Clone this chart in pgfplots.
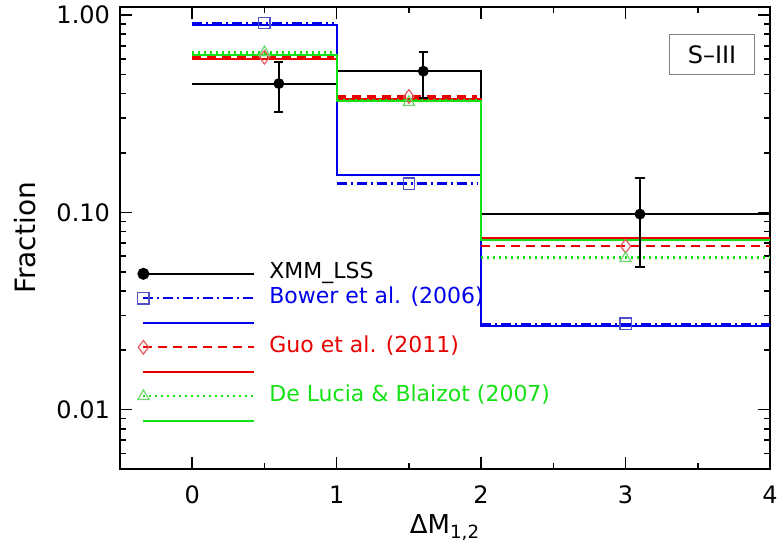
\documentclass[border=0pt]{standalone}
\usepackage{fontspec}
\setmainfont{DejaVu Sans}
\usepackage{pgfplots}
\pgfplotsset{compat=1.18}
\usetikzlibrary{calc}
\definecolor{myblue}{RGB}{0,0,235}
\definecolor{myred}{RGB}{235,0,0}
\definecolor{mygreen}{RGB}{20,225,20}
\definecolor{mkblue}{RGB}{80,80,200}
\definecolor{mkred}{RGB}{230,90,90}
\definecolor{mkgreen}{RGB}{110,215,110}
\tikzset{
  dashdotp/.style={dash pattern=on 5pt off 2pt on 1pt off 2pt},
  dashp/.style={dash pattern=on 4.5pt off 3pt},
  dotp/.style={dash pattern=on 1pt off 2pt},
}
\begin{document}
\begin{tikzpicture}
\begin{axis}[
  name=ax, scale only axis, width=325pt, height=231pt,
  xmin=-0.5, xmax=4, ymin=0.005, ymax=1.1, ymode=log,
  xtick={0,1,2,3,4}, xticklabels={0,1,2,3,4},
  minor xtick={0.5,1.5,2.5,3.5},
  ytick={0.01,0.1,1}, yticklabels={0.01,0.10,1.00},
  minor ytick={0.006,0.007,0.008,0.009,0.02,0.03,0.04,0.05,0.06,0.07,0.08,0.09,0.2,0.3,0.4,0.5,0.6,0.7,0.8,0.9},
  tick align=inside, major tick length=6pt, minor tick length=3pt,
  every tick/.style={black, line width=0.8pt},
  axis line style={line width=1pt},
  /pgf/number format/assume math mode=true,
  tick label style={font=\fontsize{12}{14}\selectfont},
  xticklabel style={yshift=-5pt},
  yticklabel style={xshift=-1.5pt},
  every axis y label/.style={at={(axis description cs:-0.146,0.5)}, rotate=90, anchor=center, font=\fontsize{14}{16}\selectfont},
  every axis x label/.style={at={(axis description cs:0.5,0)}, anchor=north, yshift=-19pt, font=\fontsize{13}{15}\selectfont},
  xlabel={ΔM\textsubscript{1,2}}, ylabel={Fraction},
  legend image code/.code={
    \path[draw=none, fill=none] (-3.5pt,-3.5pt) rectangle (55.5pt,3.5pt);
    \draw[mark repeat=2, mark phase=1, #1] plot coordinates {(0pt,0pt) (55.5pt,0pt)};
  },
  legend cell align=left,
  legend style={at={(axis description cs:0.0246,0.4450)}, anchor=north west, draw=none, fill=none,
    inner sep=0pt, row sep=2.25pt, /tikz/column sep=7pt,
    nodes={inner sep=0pt, text height=7.5pt, text depth=2.5pt, font=\fontsize{11}{13}\selectfont}},
]
% legend
\addlegendimage{black, line width=1pt, mark=*, mark size=2.5pt}
\addlegendentry{XMM\_LSS}
\addlegendimage{myblue, line width=1pt, dashdotp, mark=square, mark size=2.8pt, mark options={solid, mkblue, line width=0.6pt}}
\addlegendentry[text=myblue]{Bower et al. (2006)}
\addlegendimage{myblue, line width=1pt}
\addlegendentry{\phantom{X}}
\addlegendimage{myred, line width=1pt, dashp, mark=diamond, mark size=3.4pt, mark options={solid, mkred, line width=0.6pt}}
\addlegendentry[text=myred]{Guo et al. (2011)}
\addlegendimage{myred, line width=1pt}
\addlegendentry{\phantom{X}}
\addlegendimage{mygreen, line width=1pt, dotp, mark=triangle, mark size=3.2pt, mark options={solid, mkgreen, line width=0.6pt}}
\addlegendentry[text=mygreen]{De Lucia \& Blaizot (2007)}
\addlegendimage{mygreen, line width=1pt}
\addlegendentry{\phantom{X}}

% XMM_LSS histogram
\addplot[black, line width=1pt, const plot, forget plot] coordinates {(0,0.45) (1,0.52) (2,0.098) (4,0.098)};
% Bower
\addplot[myblue, line width=1pt, const plot, forget plot] coordinates {(0,0.895) (1,0.155) (2,0.0267) (4,0.0267)};
\addplot[myblue, line width=1.1pt, dashdotp, unbounded coords=jump, forget plot] coordinates {(0,0.912) (0.98,0.912) (1,nan) (1,0.140) (1.97,0.140) (2,nan) (2,0.0273) (4,0.0273)};
\addplot[mkblue, only marks, mark=square, mark size=2.8pt, line width=0.6pt, forget plot] coordinates {(0.5,0.912) (1.5,0.140) (3,0.0273)};
% Guo
\addplot[myred, line width=1pt, const plot, forget plot] coordinates {(0,0.600) (1,0.377) (2,0.0744) (4,0.0744)};
\addplot[myred, line width=1.1pt, dashp, unbounded coords=jump, forget plot] coordinates {(0,0.612) (0.98,0.612) (1,nan) (1,0.387) (1.97,0.387) (2,nan) (2,0.0675) (4,0.0675)};
\addplot[mkred, only marks, mark=diamond, mark size=3.4pt, line width=0.6pt, forget plot] coordinates {(0.5,0.612) (1.5,0.387) (3,0.0675)};
% De Lucia
\addplot[mygreen, line width=1pt, const plot, forget plot] coordinates {(0,0.628) (1,0.365) (2,0.0727) (4,0.0727)};
\addplot[mygreen, line width=1.1pt, dotp, unbounded coords=jump, forget plot] coordinates {(0,0.647) (0.98,0.647) (1,nan) (1,0.372) (1.97,0.372) (2,nan) (2,0.0591) (4,0.0591)};
\addplot[mkgreen, only marks, mark=triangle, mark size=3.2pt, line width=0.6pt, forget plot] coordinates {(0.5,0.647) (1.5,0.362) (3,0.0585)};
% XMM_LSS points
\addplot[black, only marks, mark=*, mark size=2.5pt, forget plot,
  error bars/.cd, y dir=both, y explicit,
  error bar style={line width=0.9pt},
  error mark options={rotate=90, mark size=2.3pt, line width=0.9pt}]
  coordinates {
  (0.6,0.45) += (0,0.129) -= (0,0.127)
  (1.6,0.52) += (0,0.131) -= (0,0.140)
  (3.1,0.098) += (0,0.051) -= (0,0.0452)
  };
\node[draw=gray, line width=0.5pt, minimum width=42.5pt, minimum height=20pt, anchor=north east,
  font=\fontsize{12}{14}\selectfont, inner sep=0pt] at (rel axis cs:1,1) [xshift=-7.5pt, yshift=-13.5pt] {S–III};
\end{axis}
\pgfresetboundingbox
\path ($(ax.south west)+(-60pt,-42pt)$) rectangle ($(ax.north east)+(4pt,3.5pt)$);
\end{tikzpicture}
\end{document}
